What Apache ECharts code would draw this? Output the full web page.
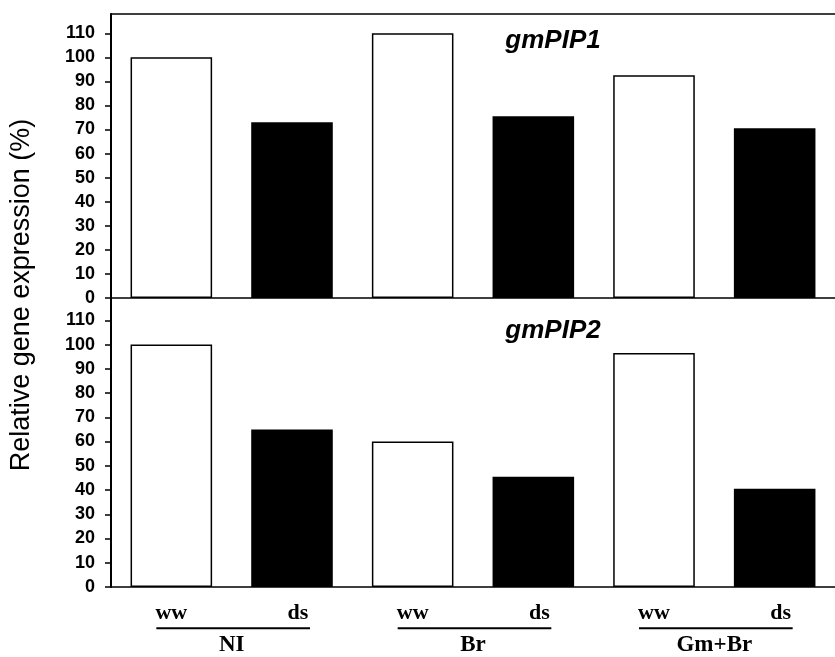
<!DOCTYPE html>
<html><head><meta charset="utf-8">
<script src="https://cdn.jsdelivr.net/npm/echarts@6/dist/echarts.min.js"></script>
<style>html,body{margin:0;padding:0;background:#fff}#c{width:835px;height:657px}</style>
</head><body><div id="c"></div>
<script>
// ---- data ----
const categories = ['NI-ww', 'NI-ds', 'Br-ww', 'Br-ds', 'Gm+Br-ww', 'Gm+Br-ds'];
const conditions = ['ww', 'ds', 'ww', 'ds', 'ww', 'ds'];
const groups = ['NI', 'Br', 'Gm+Br'];
const gmPIP1 = [100, 73, 110, 75.5, 92.5, 70.5];
const gmPIP2 = [100, 65, 60, 45.5, 96.5, 40.5];
const yTicks = [0, 10, 20, 30, 40, 50, 60, 70, 80, 90, 100, 110];
const panelTitles = ['gmPIP1', 'gmPIP2'];
const yTitle = 'Relative gene expression (%)';

const chart = echarts.init(document.getElementById('c'), null, {renderer: 'canvas'});
const SANS = '"Liberation Sans", Arial, Helvetica, sans-serif';
const SERIF = '"Liberation Serif", "Times New Roman", serif';

function barData(vals) {
  return vals.map((v, i) => ({
    value: v,
    itemStyle: conditions[i] === 'ww'
      ? {color: '#fff', borderColor: '#000', borderWidth: 1.5}
      : {color: '#000', borderWidth: 0}
  }));
}
function yAxisFor(gi, max) {
  return {
    gridIndex: gi, type: 'value', min: 0, max: max,
    axisLine: {show: true, lineStyle: {color: '#000', width: 2}},
    axisTick: {show: true, length: 6, customValues: yTicks, lineStyle: {color: '#000', width: 1.5}},
    axisLabel: {customValues: yTicks, margin: 16, fontFamily: SANS, fontWeight: 'bold', fontSize: 18, color: '#000'},
    splitLine: {show: false}
  };
}

const option = {
  animation: false,
  backgroundColor: '#fff',
  grid: [
    {left: 111, right: -4, top: 14, height: 284},
    {left: 111, right: -4, top: 298, height: 291.3}
  ],
  xAxis: [
    {gridIndex: 0, type: 'category', data: categories, position: 'bottom',
     axisLine: {lineStyle: {color: '#000', width: 1.5}}, axisTick: {show: false}, axisLabel: {show: false}},
    {gridIndex: 0, type: 'category', data: categories, position: 'top',
     axisLine: {lineStyle: {color: '#000', width: 1.5}}, axisTick: {show: false}, axisLabel: {show: false}},
    {gridIndex: 1, type: 'category', data: categories, position: 'bottom',
     axisLine: {lineStyle: {color: '#000', width: 1.5}}, axisTick: {show: false},
     axisLabel: {
       margin: 15, interval: 0,
       formatter: (v, i) => conditions[i] === 'ww' ? '{ww|ww}' : '{ds|ds}',
       rich: {
         ww: {fontFamily: SERIF, fontWeight: 'bold', fontSize: 22, color: '#000'},
         ds: {fontFamily: SERIF, fontWeight: 'bold', fontSize: 22, color: '#000', padding: [0, 0, 0, 12]}
       }
     }},
    {gridIndex: 1, type: 'category', data: groups, position: 'bottom',
     axisLine: {show: false}, axisTick: {show: false},
     axisLabel: {margin: 47, interval: 0, fontFamily: SERIF, fontWeight: 'bold', fontSize: 23, color: '#000'}}
  ],
  yAxis: [yAxisFor(0, 118), yAxisFor(1, 119.2)],
  series: [
    {type: 'bar', xAxisIndex: 0, yAxisIndex: 0, data: barData(gmPIP1), barWidth: '67.6%'},
    {type: 'bar', xAxisIndex: 2, yAxisIndex: 1, data: barData(gmPIP2), barWidth: '67.6%'}
  ]
};
chart.setOption(option);

// annotations placed through the axes' own scales
const lineY = 628.3;
const graphics = groups.map((g, gi) => {
  const x0 = chart.convertToPixel({xAxisIndex: 2}, gi * 2) - 15;
  const x1 = chart.convertToPixel({xAxisIndex: 2}, gi * 2 + 1) + 18;
  return {type: 'line', shape: {x1: x0, y1: lineY, x2: x1, y2: lineY}, style: {stroke: '#000', lineWidth: 2}};
});
const titleY = [chart.convertToPixel({yAxisIndex: 0}, 118) + 27, chart.convertToPixel({yAxisIndex: 1}, 119.2) + 33];
panelTitles.forEach((t, i) => {
  graphics.push({type: 'text', x: 553, y: titleY[i], style: {
    text: t, fill: '#000', font: 'italic bold 26px ' + SANS, align: 'center', verticalAlign: 'middle'}});
});
graphics.push({type: 'text', x: 22, y: 295, rotation: Math.PI / 2, style: {
  text: yTitle, fill: '#000', font: '27px ' + SANS, align: 'center', verticalAlign: 'middle'}});
chart.setOption({graphic: graphics});
</script>
</body></html>
